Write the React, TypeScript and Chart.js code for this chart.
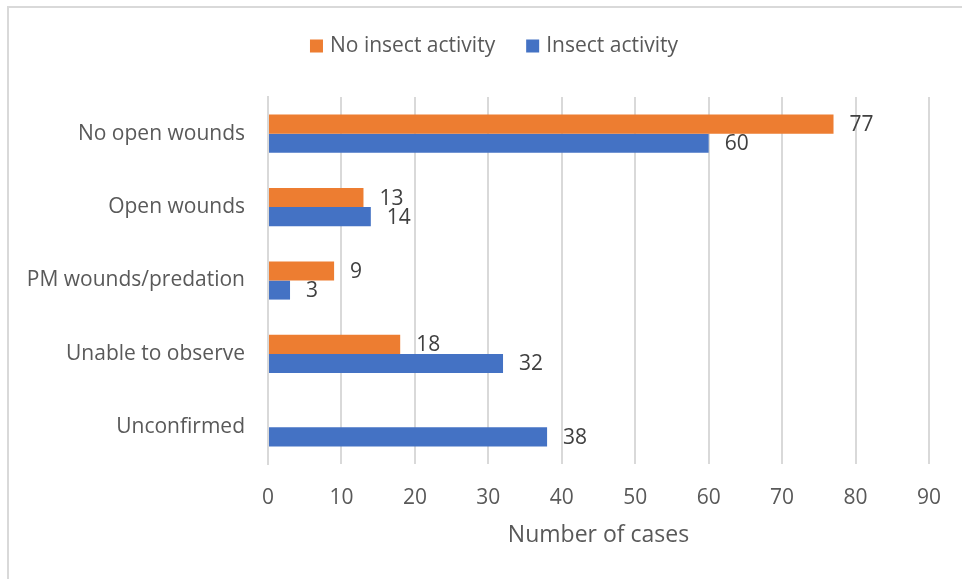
import React, { useEffect, useRef } from "react";
import { Chart, registerables } from "chart.js";

Chart.register(...registerables);

const categories = ["No open wounds", "Open wounds", "PM wounds/predation", "Unable to observe", "Unconfirmed"];
const noInsectActivity: (number | null)[] = [77, 13, 9, 18, null];
const insectActivity: (number | null)[] = [60, 14, 3, 32, 38];
const seriesNames = ["No insect activity", "Insect activity"];
const seriesColors = ["#ED7D31", "#4472C4"];
const xAxisTitle = "Number of cases";
const xMin = 0;
const xMax = 90;
const xStep = 10;

const FONT = "'Open Sans', sans-serif";
const FSIZE = 21;
const TITLE_SIZE = 23;

const dataLabelPlugin = {
  id: "dataLabels",
  afterDatasetsDraw(chart: any) {
    const ctx = chart.ctx;
    ctx.save();
    ctx.font = `${FSIZE}px ${FONT}`;
    ctx.fillStyle = "#404040";
    ctx.textAlign = "left";
    ctx.textBaseline = "middle";
    chart.data.datasets.forEach((ds: any, i: number) => {
      const meta = chart.getDatasetMeta(i);
      meta.data.forEach((el: any, j: number) => {
        const v = ds.data[j];
        if (v === null || v === undefined) return;
        ctx.fillText(String(v), el.x + 16, el.y + 1);
      });
    });
    ctx.restore();
  },
};

const legendPlugin = {
  id: "customLegend",
  afterDraw(chart: any) {
    const ctx = chart.ctx;
    ctx.save();
    ctx.font = `${FSIZE}px ${FONT}`;
    ctx.textBaseline = "middle";
    ctx.textAlign = "left";
    const box = 13;
    const gapText = 7;
    const gapItem = 31;
    const items = chart.data.datasets.map((d: any) => ({
      text: d.label,
      color: d.backgroundColor,
      w: ctx.measureText(d.label).width,
    }));
    let total = 0;
    items.forEach((it: any, i: number) => {
      total += box + gapText + it.w + (i < items.length - 1 ? gapItem : 0);
    });
    const cx = 494;
    const cy = 46;
    let x = cx - total / 2;
    items.forEach((it: any) => {
      ctx.fillStyle = it.color;
      ctx.fillRect(x, cy - box / 2, box, box);
      x += box + gapText;
      ctx.fillStyle = "#595959";
      ctx.fillText(it.text, x, cy);
      x += it.w + gapItem;
    });
    ctx.restore();
  },
};

export default function App() {
  const ref = useRef<HTMLCanvasElement | null>(null);
  useEffect(() => {
    if (!ref.current) return;
    const chart = new Chart(ref.current, {
      type: "bar",
      data: {
        labels: categories,
        datasets: [
          {
            label: seriesNames[0],
            data: noInsectActivity,
            backgroundColor: seriesColors[0],
            categoryPercentage: 0.52,
            barPercentage: 1,
          },
          {
            label: seriesNames[1],
            data: insectActivity,
            backgroundColor: seriesColors[1],
            categoryPercentage: 0.52,
            barPercentage: 1,
          },
        ],
      },
      options: {
        indexAxis: "y",
        animation: false,
        responsive: false,
        maintainAspectRatio: false,
        layout: { padding: { left: 0, right: 31, top: 97, bottom: 0 } },
        plugins: {
          legend: { display: false },
          tooltip: { enabled: false },
        },
        scales: {
          x: {
            min: xMin,
            max: xMax,
            ticks: {
              stepSize: xStep,
              color: "#595959",
              padding: 21,
              font: { family: FONT, size: FSIZE },
            },
            grid: { color: "#D9D9D9", lineWidth: 2, drawTicks: false },
            border: { display: false },
            title: {
              display: true,
              text: xAxisTitle,
              color: "#595959",
              font: { family: FONT, size: TITLE_SIZE },
              padding: { top: 0, bottom: 30 },
            },
            afterFit(scale: any) {
              scale.height = 115;
            },
          },
          y: {
            ticks: {
              color: "#595959",
              padding: 23,
              font: { family: FONT, size: FSIZE },
            },
            grid: { display: false, drawTicks: false },
            border: { display: true, color: "#D9D9D9", width: 2 },
            afterFit(scale: any) {
              scale.width = 268;
            },
          },
        },
      },
      plugins: [dataLabelPlugin, legendPlugin],
    } as any);
    return () => chart.destroy();
  }, []);
  return (
    <div style={{ position: "absolute", left: 0, top: 0, width: 962, height: 579, background: "#fff" }}>
      <div
        style={{
          position: "absolute",
          left: 7,
          top: 6,
          width: 962,
          height: 600,
          borderLeft: "2px solid #D9D9D9",
          borderTop: "2px solid #D9D9D9",
        }}
      />
      <canvas ref={ref} width={962} height={579} style={{ position: "absolute", left: 0, top: 0 }} />
    </div>
  );
}
